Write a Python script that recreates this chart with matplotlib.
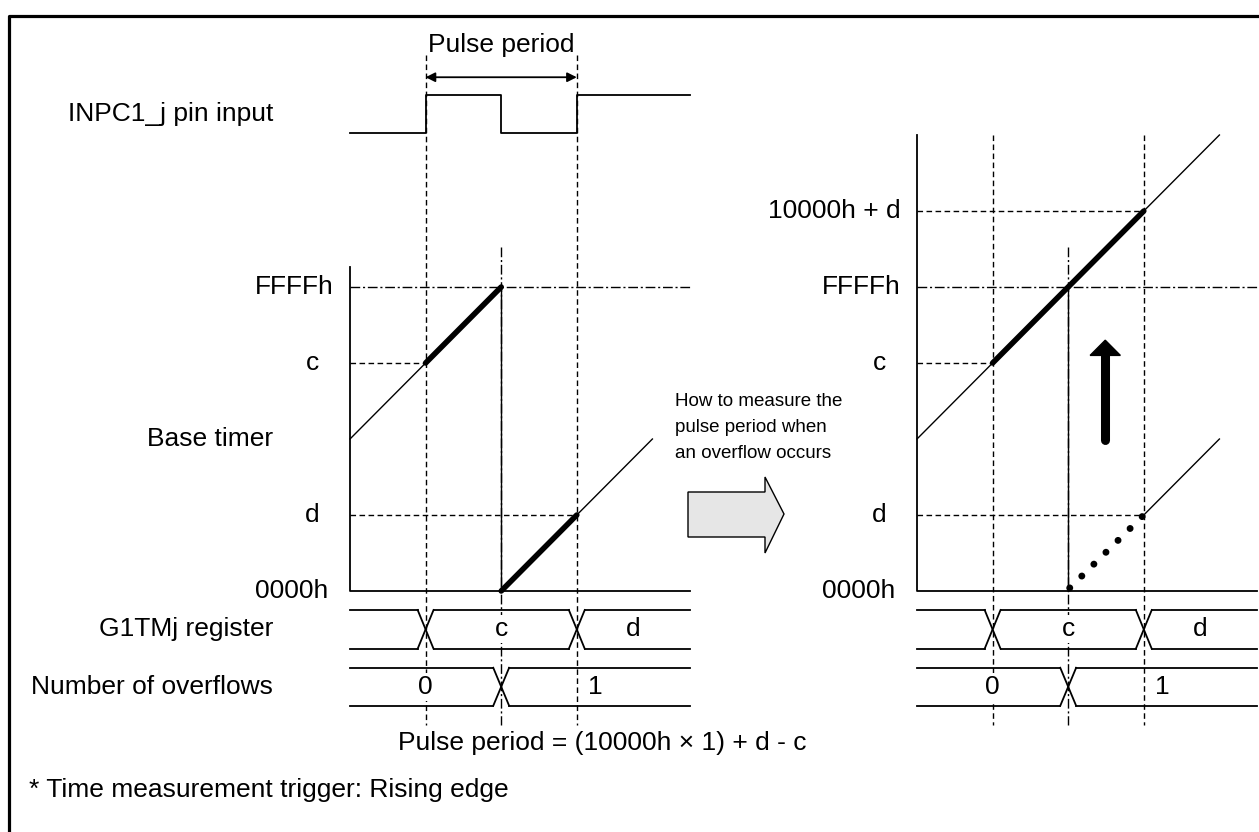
import matplotlib.pyplot as plt
from matplotlib.patches import Polygon

plt.rcParams['font.family'] = ['Liberation Sans', 'DejaVu Sans']

W, H = 1259, 832
UX, UY = 75.6, 76.0          # pixels per time step / per counter step
ZERO_Y = 591                 # pixel row of 0000h
LEFT_X0, RIGHT_X0 = 350, 917 # pixel column of the counter axis in each panel

# ---- diagram data (time in edge steps, counter in value steps) ----
t_start, t_end = 0, 4.5
t_rise1, t_ovf, t_rise2 = 1, 2, 3
pin_edges = [t_rise1, t_ovf, t_rise2]
pin_levels = [0, 1, 0, 1]

lvl_names = {0: '0000h', 1: 'd', 3: 'c', 4: 'FFFFh', 5: '10000h + d'}

left_ramp_t = [[0, 2], [2, 4]]
left_ramp_v = [[2, 4], [0, 2]]
left_bold_t = [[1, 2], [2, 3]]
left_bold_v = [[3, 4], [0, 1]]

right_ramp_t = [[0, 4], [3, 4]]
right_ramp_v = [[2, 6], [1, 2]]
right_bold_t = [[1, 3]]
right_bold_v = [[3, 5]]
dots_t, dots_v = [2.02, 3], [0.04, 1]

reg_edges = [t_rise1, t_rise2]
reg_vals = ['', 'c', 'd']
ovf_edges = [t_ovf]
ovf_vals = ['0', '1']

# row layout (in counter steps)
PIN_LO, PIN_HI = 6.03, 6.53
BUS1 = (-0.25, -0.76)
BUS2 = (-1.01, -1.51)
V_BOT = -1.76

FS = 19
THIN = 1.0
BUS_LW = 1.3
DASH = (0, (4, 2.5))
DDOT = (0, (7, 2, 1.5, 2))

fig = plt.figure(figsize=(W / 100, H / 100), dpi=100)
axf = fig.add_axes([0, 0, 1, 1])
axf.set_xlim(0, W)
axf.set_ylim(H, 0)
axf.axis('off')


def panel(x0):
    a = fig.add_axes([0, 0, 1, 1])
    a.set_xlim(-x0 / UX, (W - x0) / UX)
    a.set_ylim((ZERO_Y - H) / UY, ZERO_Y / UY)
    a.axis('off')
    a.patch.set_alpha(0)
    return a


def bus(a, rows, edges, vals):
    top, bot = rows
    hw = 0.105
    bounds = [t_start] + edges + [t_end]
    for i in range(len(bounds) - 1):
        lo = bounds[i] + (hw if i > 0 else 0)
        hi = bounds[i + 1] - (hw if i < len(bounds) - 2 else 0)
        a.plot([lo, hi], [top, top], color='k', lw=BUS_LW)
        a.plot([lo, hi], [bot, bot], color='k', lw=BUS_LW)
        if vals[i]:
            a.text((bounds[i] + bounds[i + 1]) / 2, (top + bot) / 2, vals[i],
                   ha='center', va='center', fontsize=FS, zorder=5,
                   bbox=dict(facecolor='white', edgecolor='none', pad=1.5))
    for e in edges:
        a.plot([e - hw, e + hw], [top, bot], color='k', lw=BUS_LW)
        a.plot([e - hw, e + hw], [bot, top], color='k', lw=BUS_LW)


def common(a, axis_top, dash_top, levels):
    # counter axis and baseline
    a.plot([0, 0, t_end], [axis_top, 0, 0], color='k', lw=BUS_LW)
    # edge guides
    for t in (t_rise1, t_rise2):
        a.plot([t, t], [dash_top, V_BOT], color='k', lw=THIN, ls=DASH)
    a.plot([t_ovf, t_ovf], [4.53, V_BOT], color='k', lw=THIN, ls=DDOT)
    a.plot([t_ovf, t_ovf], [0, 4], color='k', lw=THIN)
    # FFFFh reference
    a.plot([0, t_end], [4, 4], color='k', lw=THIN, ls=DDOT)
    for lv in levels:
        name = lvl_names[lv]
        if len(name) == 1:
            a.text(-0.5, lv, name, ha='center', va='center', fontsize=FS)
        else:
            a.text(-0.22 if lv else -0.29, lv, name, ha='right', va='center',
                   fontsize=FS)
    bus(a, BUS1, reg_edges, reg_vals)
    bus(a, BUS2, ovf_edges, ovf_vals)


# ---------------- left panel ----------------
axl = panel(LEFT_X0)
common(axl, 4.26, 7.05, [0, 1, 3, 4])
axl.plot([0, t_rise1], [3, 3], color='k', lw=THIN, ls=DASH)
axl.plot([0, t_rise2], [1, 1], color='k', lw=THIN, ls=DASH)
for tt, vv in zip(left_ramp_t, left_ramp_v):
    axl.plot(tt, vv, color='k', lw=THIN)
for tt, vv in zip(left_bold_t, left_bold_v):
    axl.plot(tt, vv, color='k', lw=4.0, solid_capstyle='round')

# pin input waveform
pt = [t_start]
pv = [pin_levels[0]]
for e, lv in zip(pin_edges, pin_levels[1:]):
    pt += [e, e]
    pv += [pv[-1], lv]
pt.append(t_end)
pv.append(pv[-1])
axl.plot(pt, [PIN_LO + v * (PIN_HI - PIN_LO) for v in pv], color='k', lw=BUS_LW)
axl.annotate('', xy=(t_rise1, 6.76), xytext=(t_rise2, 6.76),
             arrowprops=dict(arrowstyle='<|-|>', color='k', lw=1.3,
                             mutation_scale=14, shrinkA=0, shrinkB=0))
axl.text(t_ovf, 7.18, 'Pulse period', ha='center', va='center', fontsize=FS)

for lbl, y in [('INPC1_j pin input', (PIN_LO + PIN_HI) / 2),
               ('Base timer', 2), ('G1TMj register', sum(BUS1) / 2),
               ('Number of overflows', sum(BUS2) / 2)]:
    axl.text(-1.02, y, lbl, ha='right', va='center', fontsize=FS)

# ---------------- right panel ----------------
axr = panel(RIGHT_X0)
common(axr, 6.0, 6.0, [0, 1, 3, 4, 5])
axr.plot([0, t_rise1], [3, 3], color='k', lw=THIN, ls=DASH)
axr.plot([0, t_rise2], [1, 1], color='k', lw=THIN, ls=DASH)
axr.plot([0, t_rise2], [5, 5], color='k', lw=THIN, ls=DASH)
for tt, vv in zip(right_ramp_t, right_ramp_v):
    axr.plot(tt, vv, color='k', lw=THIN)
for tt, vv in zip(right_bold_t, right_bold_v):
    axr.plot(tt, vv, color='k', lw=4.0, solid_capstyle='round')
# dotted continuation of the counter after the overflow
axr.plot(dots_t, dots_v, color='k', lw=5.0, ls=(0, (0.01, 2.43)),
         dash_capstyle='round')
# upward shift arrow
axr.plot([2.49, 2.49], [1.99, 3.12], color='k', lw=6.5, solid_capstyle='round')
axr.add_patch(Polygon([[2.29, 3.10], [2.69, 3.10], [2.49, 3.30]],
                      closed=True, color='k'))

# ---------------- frame, notes, transfer arrow ----------------
axf.plot([9, 9, W + 5], [H + 5, 15.5, 15.5], color='k', lw=2.3)
axf.add_patch(Polygon([[688, 492], [765, 492], [765, 477], [784, 514],
                       [765, 553], [765, 537], [688, 537]], closed=True,
                      facecolor='#e6e6e6', edgecolor='k', lw=1.0))
for i, line in enumerate(['How to measure the', 'pulse period when',
                          'an overflow occurs']):
    axf.text(675, 402 + i * 25.5, line, ha='left', va='center', fontsize=13.5)

axf.text(398, 743, 'Pulse period = (10000h \u00d7 1) + d - c', ha='left',
         va='center', fontsize=FS)
axf.text(29, 790, '* Time measurement trigger: Rising edge', ha='left',
         va='center', fontsize=FS)

fig.savefig('out.png', dpi=100)
